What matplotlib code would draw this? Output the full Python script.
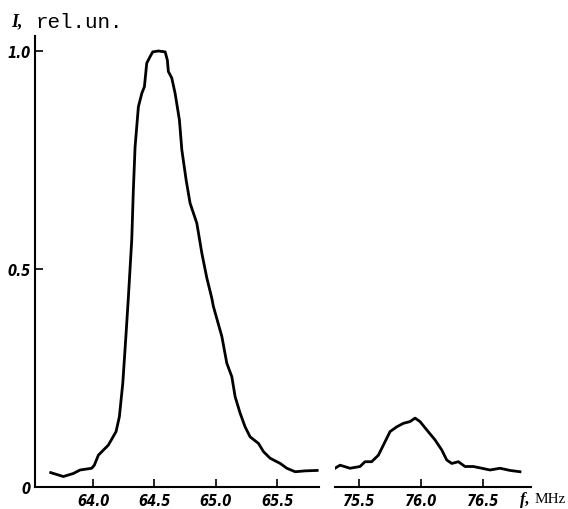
import matplotlib
matplotlib.use("Agg")
import matplotlib.pyplot as plt

# Left band (around 64.5 MHz)
f_left = [63.655, 63.758, 63.839, 63.894, 63.989, 64.010, 64.043, 64.124, 64.187, 64.214,
          64.242, 64.269, 64.287, 64.315, 64.328, 64.342, 64.369, 64.397, 64.418, 64.437,
          64.464, 64.486, 64.532, 64.587, 64.605, 64.613, 64.641, 64.668, 64.703, 64.723,
          64.758, 64.790, 64.845, 64.886, 64.926, 64.967, 64.980, 65.049, 65.089, 65.130,
          65.157, 65.198, 65.238, 65.279, 65.347, 65.388, 65.442, 65.524, 65.578, 65.646,
          65.727, 65.825]
i_left = [0.033, 0.024, 0.031, 0.039, 0.043, 0.050, 0.073, 0.096, 0.127, 0.161,
          0.238, 0.353, 0.433, 0.567, 0.681, 0.780, 0.872, 0.903, 0.918, 0.972,
          0.987, 0.998, 1.000, 0.998, 0.979, 0.953, 0.938, 0.903, 0.842, 0.773,
          0.704, 0.651, 0.605, 0.536, 0.480, 0.433, 0.414, 0.345, 0.284, 0.253,
          0.207, 0.169, 0.138, 0.115, 0.100, 0.081, 0.066, 0.054, 0.043, 0.035,
          0.037, 0.038]

# Right band (around 76 MHz)
f_right = [75.306, 75.347, 75.427, 75.508, 75.548, 75.602, 75.656, 75.710, 75.750, 75.804,
           75.857, 75.911, 75.952, 75.992, 76.046, 76.113, 76.167, 76.207, 76.248, 76.301,
           76.355, 76.422, 76.490, 76.556, 76.637, 76.718, 76.798]
i_right = [0.043, 0.050, 0.043, 0.047, 0.058, 0.058, 0.073, 0.104, 0.127, 0.138,
           0.146, 0.150, 0.158, 0.150, 0.131, 0.108, 0.085, 0.062, 0.054, 0.058,
           0.047, 0.047, 0.043, 0.039, 0.043, 0.038, 0.035]

xticks_left = [64.0, 64.5, 65.0, 65.5]
xticklabels_left = ["64.0", "64.5", "65.0", "65.5"]
xticks_right = [75.5, 76.0, 76.5]
xticklabels_right = ["75.5", "76.0", "76.5"]
yticks = [0, 0.5, 1.0]
yticklabels = ["0", "0.5", "1.0"]

W, H = 568, 510
fig = plt.figure(figsize=(W / 100, H / 100), dpi=100)

def frac(x0, x1, ytop, ybot):
    return [x0 / W, 1 - ybot / H, (x1 - x0) / W, (ybot - ytop) / H]

ymax = (488 - 37) / 436.0
axL = fig.add_axes(frac(35, 319, 37, 488))
axR = fig.add_axes(frac(335, 531, 37, 488))

lab_font = dict(family="DejaVu Sans", weight="bold", style="italic", size=10.5, stretch="condensed")

for ax in (axL, axR):
    ax.set_ylim(0, ymax)
    for s in ("top", "right"):
        ax.spines[s].set_visible(False)
    ax.spines["bottom"].set_linewidth(1.5)
    ax.spines["left"].set_linewidth(1.5)
    ax.tick_params(direction="in", length=6, width=1.2, pad=4)

axL.plot(f_left, i_left, color="black", lw=2.0, solid_joinstyle="round")
axL.set_xlim(63.527, 65.84)
axL.set_xticks(xticks_left)
axL.set_xticklabels(xticklabels_left, fontdict=lab_font)
axL.set_yticks(yticks)
axL.set_yticklabels(yticklabels, fontdict=lab_font)
axL.tick_params(axis="y", pad=3)

axR.plot(f_right, i_right, color="black", lw=2.0, solid_joinstyle="round")
axR.set_xlim(75.306, 76.887)
axR.set_xticks(xticks_right)
axR.set_xticklabels(xticklabels_right, fontdict=lab_font)
axR.spines["left"].set_visible(False)
axR.set_yticks([])

# Axis labels
fig.text(11 / W, 1 - 22 / H, "I,", fontsize=13, fontweight="bold", style="italic",
         family="Liberation Serif", va="center", ha="left")
fig.text(36 / W, 1 - 22 / H, "rel.un.", fontsize=15, family="Liberation Mono",
         va="center", ha="left")
fig.text(520 / W, 1 - 500 / H, "f,", fontsize=12, fontweight="bold", style="italic",
         family="Liberation Serif", va="center", ha="left")
fig.text(535 / W, 1 - 500 / H, "MHz", fontsize=11, family="Liberation Serif",
         va="center", ha="left")

fig.savefig("out.png", dpi=100)
